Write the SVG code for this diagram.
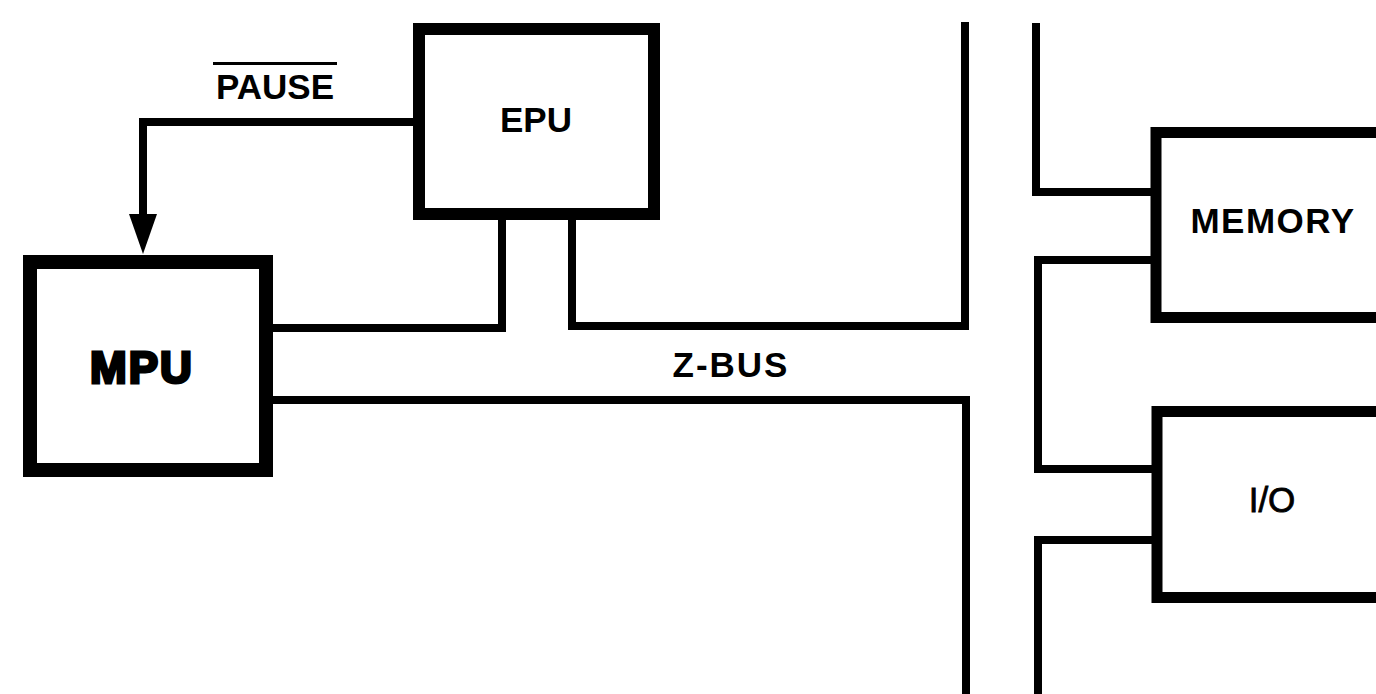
<svg xmlns="http://www.w3.org/2000/svg" width="1376" height="694" viewBox="0 0 1376 694">
  <style>
    .box { fill: #fff; stroke: #000; stroke-linejoin: miter; }
    .wire { fill: none; stroke: #000; stroke-width: 8; stroke-linejoin: miter; stroke-linecap: square; }
    .lbl { font-family: "Liberation Sans", Arial, Helvetica, sans-serif; font-size: 35px; font-weight: bold; fill: #000; text-anchor: middle; }
  </style>
  <defs>
    <marker id="arrow" markerUnits="userSpaceOnUse" markerWidth="40" markerHeight="30" viewBox="0 0 40 30" refX="18" refY="15" orient="auto">
      <path d="M0,1 L40,15 L0,29 z" fill="#000"/>
    </marker>
  </defs>
  <rect width="1376" height="694" fill="#fff"/>

  <g id="connectors">
    <path class="wire" d="M413,122 H143 V232" marker-end="url(#arrow)"/>
    <path class="wire" d="M502,220 V328 H273"/>
    <path class="wire" d="M572,220 V326 H965 V26"/>
    <path class="wire" d="M273,400 H966 V698"/>
    <path class="wire" d="M1036,27 V192 H1150"/>
    <path class="wire" d="M1150,260 H1038 V469 H1151"/>
    <path class="wire" d="M1151,540 H1038 V698"/>
  </g>

  <g id="pause-label">
    <text class="lbl" x="275" y="99">PAUSE</text>
    <line x1="213" y1="63.5" x2="337" y2="63.5" stroke="#000" stroke-width="3"/>
  </g>

  <g id="epu">
    <rect class="box" x="419" y="29" width="235" height="185" stroke-width="12"/>
    <text class="lbl" x="536" y="132">EPU</text>
  </g>

  <g id="mpu">
    <rect class="box" x="30" y="262" width="236" height="208" stroke-width="14"/>
    <text class="lbl" x="142" y="383" style="font-size:44px;stroke:#000;stroke-width:3;letter-spacing:2px">MPU</text>
  </g>

  <g id="zbus-label">
    <text class="lbl" x="731" y="377" style="letter-spacing:2px">Z-BUS</text>
  </g>

  <g id="memory">
    <rect class="box" x="1156" y="132.5" width="260" height="185" stroke-width="11"/>
    <text class="lbl" x="1273" y="233" style="letter-spacing:1.5px">MEMORY</text>
  </g>

  <g id="io">
    <rect class="box" x="1157" y="411.5" width="260" height="186" stroke-width="11"/>
    <text class="lbl" x="1272" y="512" style="font-weight:normal;stroke:#000;stroke-width:0.8">I/O</text>
  </g>
</svg>
